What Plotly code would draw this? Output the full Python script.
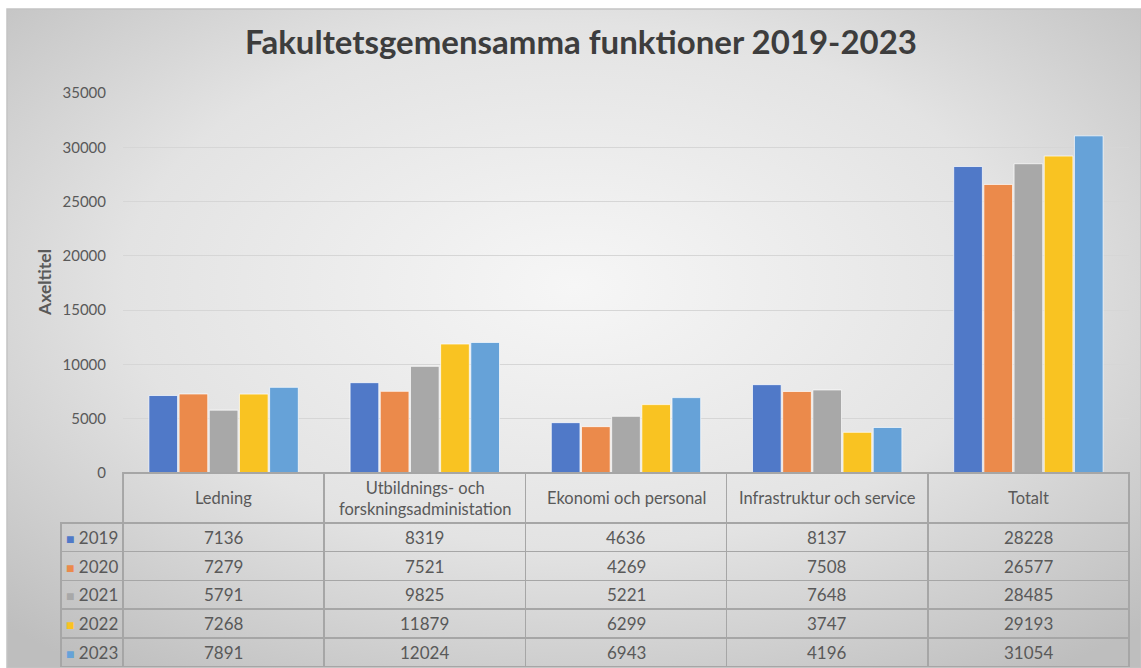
import base64
import plotly.graph_objects as go

W, H = 1141, 668

# data
categories = ["Ledning", "Utbildnings- och forskningsadministation",
              "Ekonomi och personal", "Infrastruktur och service", "Totalt"]
header_labels = ["Ledning", "Utbildnings- och<br>forskningsadministation",
                 "Ekonomi och personal", "Infrastruktur och service", "Totalt"]
years = ["2019", "2020", "2021", "2022", "2023"]
v2019 = [7136, 8319, 4636, 8137, 28228]
v2020 = [7279, 7521, 4269, 7508, 26577]
v2021 = [5791, 9825, 5221, 7648, 28485]
v2022 = [7268, 11879, 6299, 3747, 29193]
v2023 = [7891, 12024, 6943, 4196, 31054]
series = [v2019, v2020, v2021, v2022, v2023]
colors = ["#5079c8", "#eb8a4b", "#a8a8a8", "#f9c322", "#66a2d8"]

text_col = "#595959"
line_col = "#a6a6a6"
font = "Lato, 'Open Sans', sans-serif"

# table geometry (px)
TABLE_TOP = 473
HEADER_H = 50
ROW_H = 28.7

# soft radial background like the Excel chart style
svg = (
    '<svg xmlns="http://www.w3.org/2000/svg" width="1134" height="659" preserveAspectRatio="none">'
    '<defs><radialGradient id="g" cx="0.5" cy="0.42" r="0.72">'
    '<stop offset="0" stop-color="#f6f6f6"/><stop offset="0.55" stop-color="#e3e3e3"/>'
    '<stop offset="1" stop-color="#bebebe"/></radialGradient></defs>'
    '<rect width="100%" height="100%" fill="url(#g)"/></svg>'
)
bg_uri = "data:image/svg+xml;base64," + base64.b64encode(svg.encode()).decode()

fig = go.Figure()

for yr, vals, c in zip(years, series, colors):
    fig.add_trace(go.Bar(
        name=yr, x=categories, y=vals,
        marker=dict(color=c, line=dict(color="rgba(255,255,255,0.7)", width=1)),
        showlegend=False,
    ))

# table grid under the chart (texts are added as annotations so rows stay tight)
fig.add_trace(go.Table(
    domain=dict(x=[61 / W, 1129 / W], y=[0, (H - TABLE_TOP) / H]),
    columnwidth=[62, 201, 201, 201, 201, 201],
    header=dict(
        values=[""] * 6,
        height=HEADER_H,
        fill=dict(color="rgba(0,0,0,0)"),
        line=dict(color=["rgba(0,0,0,0)"] + [line_col] * 5, width=1.5),
    ),
    cells=dict(
        values=[[""] * len(years)] * 6,
        height=ROW_H,
        fill=dict(color="rgba(0,0,0,0)"),
        line=dict(color=line_col, width=1.5),
        font=dict(size=8),
    ),
))

# header labels, centred on each category column
header_y = (H - TABLE_TOP - HEADER_H / 2) / H
for cat, lab in zip(categories, header_labels):
    fig.add_annotation(x=cat, xref="x", y=header_y, yref="paper",
                       text=lab, showarrow=False, xanchor="center", yanchor="middle",
                       font=dict(family=font, size=16.5, color=text_col))

# row texts: legend key + values
for r, (yr, vals, c) in enumerate(zip(years, series, colors)):
    ry = (H - TABLE_TOP - HEADER_H - ROW_H * (r + 0.5)) / H
    fig.add_annotation(x=92 / W, xref="paper", y=ry, yref="paper",
                       text=f"<span style='color:{c};font-size:14px'>■</span> {yr}",
                       showarrow=False, xanchor="center", yanchor="middle",
                       font=dict(family=font, size=17, color=text_col))
    for cat, v in zip(categories, vals):
        fig.add_annotation(x=cat, xref="x", y=ry, yref="paper",
                           text=str(v), showarrow=False, xanchor="center", yanchor="middle",
                           font=dict(family=font, size=17, color=text_col))

fig.add_annotation(x=45 / W, y=1 - 283 / H, xref="paper", yref="paper",
                   text="Axeltitel", textangle=-90, showarrow=False,
                   xanchor="center", yanchor="middle",
                   font=dict(family=font, size=17.5, color=text_col, weight="bold"))

fig.update_layout(
    width=W, height=H,
    margin=dict(l=0, r=0, t=0, b=0, pad=0, autoexpand=False),
    paper_bgcolor="white",
    plot_bgcolor="rgba(0,0,0,0)",
    barmode="group",
    bargap=0.25,
    bargroupgap=0.05,
    title=dict(text="Fakultetsgemensamma funktioner 2019-2023",
               x=581 / W, xanchor="center", y=1 - 42 / H, yanchor="middle",
               font=dict(family=font, size=33, color="#3d3d3d", weight="bold")),
    xaxis=dict(domain=[123 / W, 1129 / W], showticklabels=False, showgrid=False,
               ticks="", showline=False, automargin=False),
    yaxis=dict(domain=[(H - TABLE_TOP) / H, (H - 93) / H], range=[0, 35000], dtick=5000,
               tickformat="d", automargin=False,
               gridcolor="#d6d6d6", gridwidth=1.3, zeroline=True,
               zerolinecolor=line_col, zerolinewidth=1.5,
               tickfont=dict(family=font, size=15, color=text_col),
               ticks="outside", ticklen=13, tickcolor="rgba(0,0,0,0)"),
    images=[dict(source=bg_uri, xref="paper", yref="paper",
                 x=7 / W, y=1 - 9 / H, sizex=1 - 7 / W, sizey=1 - 9 / H,
                 xanchor="left", yanchor="top", sizing="stretch", layer="below")],
    shapes=[dict(type="rect", xref="paper", yref="paper",
                 x0=7 / W, x1=1, y0=0, y1=1 - 9 / H,
                 line=dict(color="#c4c4c4", width=1.5), layer="below")],
)

# drop the default page margin so the figure sits at the window's corner
fig.write_html("out.html", config={"displayModeBar": False},
               post_script="document.body.style.margin='0';")
